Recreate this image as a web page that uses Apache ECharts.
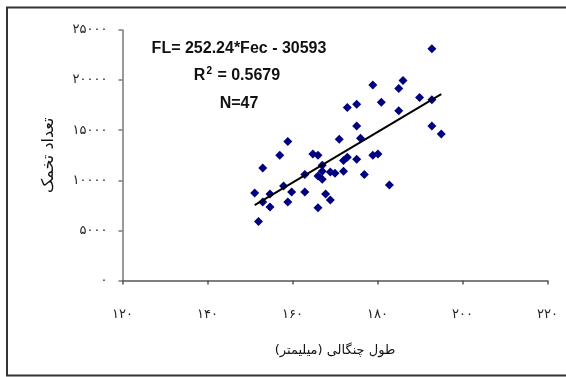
<!DOCTYPE html>
<html>
<head>
<meta charset="utf-8">
<script src="https://cdn.jsdelivr.net/npm/echarts@6/dist/echarts.min.js"></script>
<style>
  html, body { margin: 0; padding: 0; background: #fff; }
  #chart { width: 566px; height: 377px; }
</style>
</head>
<body>
<div id="chart"></div>
<script>
// Fork length (mm) of each fish and its egg count
const forkLength = [
  192.8, 178.9, 186.0, 185.0, 189.9, 192.8, 180.9, 172.9, 175.1, 185.0,
  175.1, 192.8, 195.0, 176.0, 171.0, 158.9, 157.0, 164.8, 166.0, 178.9,
  180.1, 172.9, 172.0, 175.1, 153.0, 167.0, 167.0, 168.9, 170.0, 172.0,
  176.9, 162.9, 166.0, 167.0, 182.8, 157.9, 151.1, 154.7, 159.8, 162.9,
  167.8, 153.0, 158.9, 168.9, 154.7, 166.0, 152.0
];
const eggCount = [
  23130, 19500, 19970, 19170, 18270, 18030, 17800, 17270, 17600, 16930,
  15430, 15430, 14630, 14200, 14100, 13870, 12500, 12630, 12500, 12500,
  12630, 12300, 11970, 12100, 11230, 11500, 10900, 10830, 10700, 10900,
  10570, 10570, 10430, 10100, 9530, 9430, 8730, 8630, 8830, 8830,
  8630, 7830, 7830, 8030, 7330, 7270, 5900
];

// Tick labels in Persian digits
const xTickLabels = ['۱۲۰', '۱۴۰', '۱۶۰', '۱۸۰', '۲۰۰', '۲۲۰'];
const yTickLabels = ['۰', '۵۰۰۰', '۱۰۰۰۰', '۱۵۰۰۰', '۲۰۰۰۰', '۲۵۰۰۰'];

// Linear fit: FL = slope * Fec + intercept
const fitSlope = 252.24;
const fitIntercept = -30593;
const fitR2 = '0.5679';
const fitRange = [151.1, 195.0];

const points = forkLength.map((x, i) => [x, eggCount[i]]);
const fitLine = fitRange.map(x => [x, fitSlope * x + fitIntercept]);

const chart = echarts.init(document.getElementById('chart'), null, { renderer: 'canvas' });

const persian = '"DejaVu Sans", sans-serif';
const latin = '"Liberation Sans", Arial, sans-serif';

chart.setOption({
  animation: false,
  backgroundColor: '#ffffff',
  grid: { left: 122.5, right: 18.5, top: 30, bottom: 96.5 },
  xAxis: {
    type: 'value',
    min: 120, max: 220, interval: 20,
    name: 'طول چنگالی (میلیمتر)',
    nameLocation: 'middle',
    nameGap: 64,
    nameTextStyle: { fontFamily: persian, fontSize: 13, color: '#111' },
    axisLine: { onZero: false, lineStyle: { color: '#555', width: 1.5 } },
    axisTick: { show: true, length: 4, lineStyle: { color: '#555', width: 1.5 } },
    axisLabel: {
      margin: 28,
      fontFamily: persian, fontSize: 13, color: '#222',
      formatter: v => xTickLabels[Math.round((v - 120) / 20)]
    },
    splitLine: { show: false }
  },
  yAxis: {
    type: 'value',
    min: 0, max: 25000, interval: 5000,
    name: 'تعداد تخمک',
    nameLocation: 'middle',
    nameGap: 66,
    nameTextStyle: { fontFamily: persian, fontSize: 16, color: '#111' },
    axisLine: { show: true, lineStyle: { color: '#777', width: 1.5 } },
    axisTick: { show: true, length: 4, lineStyle: { color: '#777', width: 1.5 } },
    axisLabel: {
      margin: 15,
      fontFamily: persian, fontSize: 13, color: '#222',
      formatter: v => yTickLabels[Math.round(v / 5000)]
    },
    splitLine: { show: false }
  },
  series: [
    {
      type: 'scatter',
      data: points,
      symbol: 'diamond',
      symbolSize: 9,
      itemStyle: { color: '#000080', opacity: 1 },
      z: 3
    },
    {
      type: 'line',
      data: fitLine,
      showSymbol: false,
      lineStyle: { color: '#000', width: 2 },
      z: 4
    }
  ],
  graphic: [
    {
      type: 'rect',
      shape: { x: 7, y: 7.5, width: 620, height: 368 },
      style: { fill: 'none', stroke: '#333', lineWidth: 2 },
      silent: true
    },
    {
      type: 'text',
      x: 239, y: 49,
      style: {
        text: 'FL= ' + fitSlope + '*Fec - ' + Math.abs(fitIntercept),
        fontFamily: latin, fontWeight: 'bold', fontSize: 16, fill: '#111',
        align: 'center', verticalAlign: 'middle'
      }
    },
    {
      type: 'text',
      x: 237, y: 76,
      style: {
        text: '{b|R}{s|2}{b| = ' + fitR2 + '}',
        align: 'center', verticalAlign: 'middle',
        rich: {
          b: { fontFamily: latin, fontWeight: 'bold', fontSize: 16, fill: '#111', color: '#111' },
          s: { fontFamily: latin, fontWeight: 'bold', fontSize: 10, color: '#111', padding: [0, 1, 10, 1] }
        }
      }
    },
    {
      type: 'text',
      x: 239, y: 104,
      style: {
        text: 'N=' + forkLength.length,
        fontFamily: latin, fontWeight: 'bold', fontSize: 16, fill: '#111',
        align: 'center', verticalAlign: 'middle'
      }
    }
  ]
});
</script>
</body>
</html>
